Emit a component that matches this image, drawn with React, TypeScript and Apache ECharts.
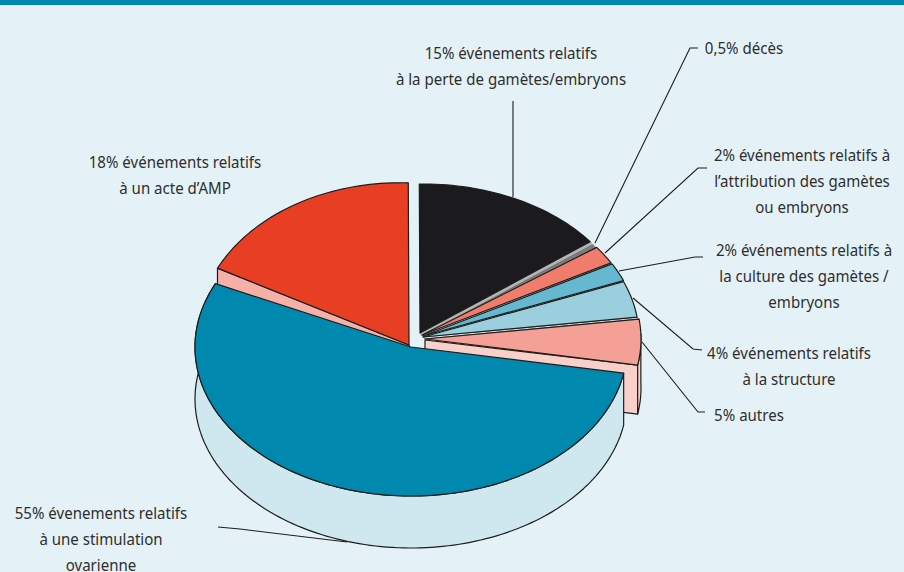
import React, { useEffect, useRef } from "react";
import * as echarts from "echarts";

// Share of declared events per category, clockwise from the top of the pie.
const categories = [
  "Perte de gamètes/embryons",
  "Décès",
  "Attribution des gamètes ou embryons",
  "Culture des gamètes / embryons",
  "Structure",
  "Autres",
  "Stimulation ovarienne",
  "Acte d'AMP",
];
const shares = [15, 0.5, 2, 2, 4, 5, 55, 18];
const topColors = ["#1b1a1e", "#7d7d7d", "#f07c6c", "#65b8cf", "#9ccfde", "#f4a096", "#0088ae", "#e83e23"];

const labelTexts = [
  "15% événements relatifs\nà la perte de gamètes/embryons",
  "0,5% décès",
  "2% événements relatifs à\nl’attribution des gamètes\nou embryons",
  "2% événements relatifs à\nla culture des gamètes /\nembryons",
  "4% événements relatifs\nà la structure",
  "5% autres",
  "55% évenements relatifs\nà une stimulation\novarienne",
  "18% événements relatifs\nà un acte d’AMP",
];
const labelAnchors = [
  [511, 40], [744, 35], [802, 142], [804, 237], [789, 340], [749, 402], [101, 500], [175, 149],
];
const leaders = [
  [[513, 101], [513, 197]],
  [[698, 48], [690, 48], [595, 243]],
  [[707, 168], [698, 168], [605, 253]],
  [[703, 257], [695, 257], [619, 271]],
  [[702, 350], [693, 349], [633, 298]],
  [[705, 412], [698, 412], [642, 342]],
  [[218, 527], [240, 529], [347, 542]],
];

// Each wedge is pulled out on its own, so each carries its own ellipse.
const wedgeFrames = [
  { cx: 420, cy: 333, rx: 213, ry: 149, skewX: 3, skewY: 0 },
  { cx: 422, cy: 336, rx: 216, ry: 149, skewX: 0, skewY: 0 },
  { cx: 422, cy: 335, rx: 216, ry: 149, skewX: 0, skewY: 0 },
  { cx: 423, cy: 336, rx: 216, ry: 149, skewX: 0, skewY: 0 },
  { cx: 423, cy: 337, rx: 216, ry: 149, skewX: 0, skewY: 0 },
  { cx: 425, cy: 339, rx: 216, ry: 149, skewX: 0, skewY: 0 },
  { cx: 411, cy: 347, rx: 216, ry: 149, skewX: 0, skewY: 0 },
  { cx: 409, cy: 345, rx: 213, ry: 162, skewX: 3, skewY: 8.8 },
];

const DEPTH = 52;
const START_DEG = -1;
const EDGE = "#1d1d1b";
const total = shares.reduce((a, b) => a + b, 0);

// Start and end angle of a wedge, in degrees clockwise from twelve o'clock.
function wedgeSpan(index: number): [number, number] {
  let before = 0;
  for (let i = 0; i < index; i++) before += shares[i];
  const from = START_DEG + (before / total) * 360;
  return [from, from + (shares[index] / total) * 360];
}

function rimPoint(index: number, deg: number, dy = 0): number[] {
  const f = wedgeFrames[index];
  const t = (deg * Math.PI) / 180;
  return [
    f.cx + f.rx * Math.sin(t) + f.skewX * Math.cos(t),
    f.cy - f.ry * Math.cos(t) + f.skewY * Math.sin(t) + dy,
  ];
}

function arcPoints(index: number, from: number, to: number, dy = 0): number[][] {
  const steps = Math.max(2, Math.ceil(Math.abs(to - from) / 1.5));
  const pts: number[][] = [];
  for (let i = 0; i <= steps; i++) pts.push(rimPoint(index, from + ((to - from) * i) / steps, dy));
  return pts;
}

function poly(points: number[][], fill: string, lineWidth = 1.2, stroke = EDGE) {
  return {
    type: "polygon",
    shape: { points },
    style: { fill, stroke, lineWidth, lineJoin: "round" },
  };
}

// Side faces seen below and beside the top surface of the pulled-out wedges.
function renderWalls(params: any) {
  const i = params.dataIndex;
  const [from, to] = wedgeSpan(i);
  const f = wedgeFrames[i];
  const children: any[] = [];
  if (i === 1) {
    const pale = wedgeSpan(0)[1];
    children.push({
      type: "polygon",
      shape: { points: [[wedgeFrames[0].cx, wedgeFrames[0].cy], rimPoint(0, pale + 0.1), rimPoint(1, from + 0.6), [f.cx, f.cy]] },
      style: { fill: "#b4b4b4", stroke: "#8a8a8a", lineWidth: 0.6 },
    });
  }
  if (i === 4) {
    children.push({
      type: "polygon",
      shape: { points: [[f.cx, f.cy], rimPoint(4, to), rimPoint(5, to), [wedgeFrames[5].cx, wedgeFrames[5].cy]] },
      style: { fill: "#d4e8ee", stroke: EDGE, lineWidth: 0.6 },
    });
  }
  if (i === 5) {
    const r = rimPoint(5, to);
    children.push(poly([[f.cx, f.cy + 1], r, [r[0], r[1] + DEPTH - 3], [f.cx, f.cy + DEPTH - 3]], "#f9cfca"));
    const top = arcPoints(5, 88, to);
    const bottom = arcPoints(5, 88, to, DEPTH - 3).reverse();
    children.push(poly([...top, ...bottom], "#f9cfca"));
  }
  if (i === 6) {
    const top = arcPoints(6, from, to);
    const bottom = arcPoints(6, from, to, DEPTH).reverse();
    children.push(poly([...top, ...bottom], "#cfe7ee"));
  }
  if (i === 7) {
    const r = rimPoint(7, from);
    children.push(poly([[f.cx, f.cy], r, [r[0], r[1] + 30], [f.cx, f.cy + 10]], "#f5b0a8"));
  }
  return { type: "group", children };
}

function renderTops(params: any) {
  const i = params.dataIndex;
  const [from, to] = wedgeSpan(i);
  const f = wedgeFrames[i];
  const points = [[f.cx, f.cy], ...arcPoints(i, from, to)];
  // The thinnest wedge would vanish under a full-weight outline.
  return i === 1 ? poly(points, topColors[i], 0.6, "#5a5a5a") : poly(points, topColors[i]);
}

export default function App() {
  const ref = useRef<HTMLDivElement>(null);

  useEffect(() => {
    document.body.style.margin = "0";
    const chart = echarts.init(ref.current!, null, { renderer: "svg" });
    const rows = shares.map((v, i) => ({ name: categories[i], value: [v] }));
    chart.setOption({
      animation: false,
      backgroundColor: "#e4f2f7",
      tooltip: { show: false },
      series: [
        { type: "custom", coordinateSystem: "none", silent: true, z: 1, renderItem: renderWalls, data: rows },
        { type: "custom", coordinateSystem: "none", silent: true, z: 2, renderItem: renderTops, data: rows },
      ],
      graphic: [
        { type: "rect", z: 5, shape: { x: 0, y: 0, width: 904, height: 5 }, style: { fill: "#0088ae" } },
        ...leaders.map((points) => ({
          type: "polyline",
          z: 1,
          shape: { points },
          style: { stroke: EDGE, lineWidth: 1.1, fill: "none" },
        })),
        // Narrowed horizontally to give the condensed look of the caption type.
        ...labelTexts.map((text, i) => ({
          type: "text",
          z: 6,
          x: labelAnchors[i][0],
          y: labelAnchors[i][1],
          scaleX: 0.885,
          style: {
            text,
            fill: "#2f2e2d",
            font: "17px 'Noto Sans', sans-serif",
            lineHeight: 26,
            align: "center",
            verticalAlign: "top",
          },
        })),
      ],
    });
    return () => chart.dispose();
  }, []);

  return <div ref={ref} style={{ width: 904, height: 572 }} />;
}
